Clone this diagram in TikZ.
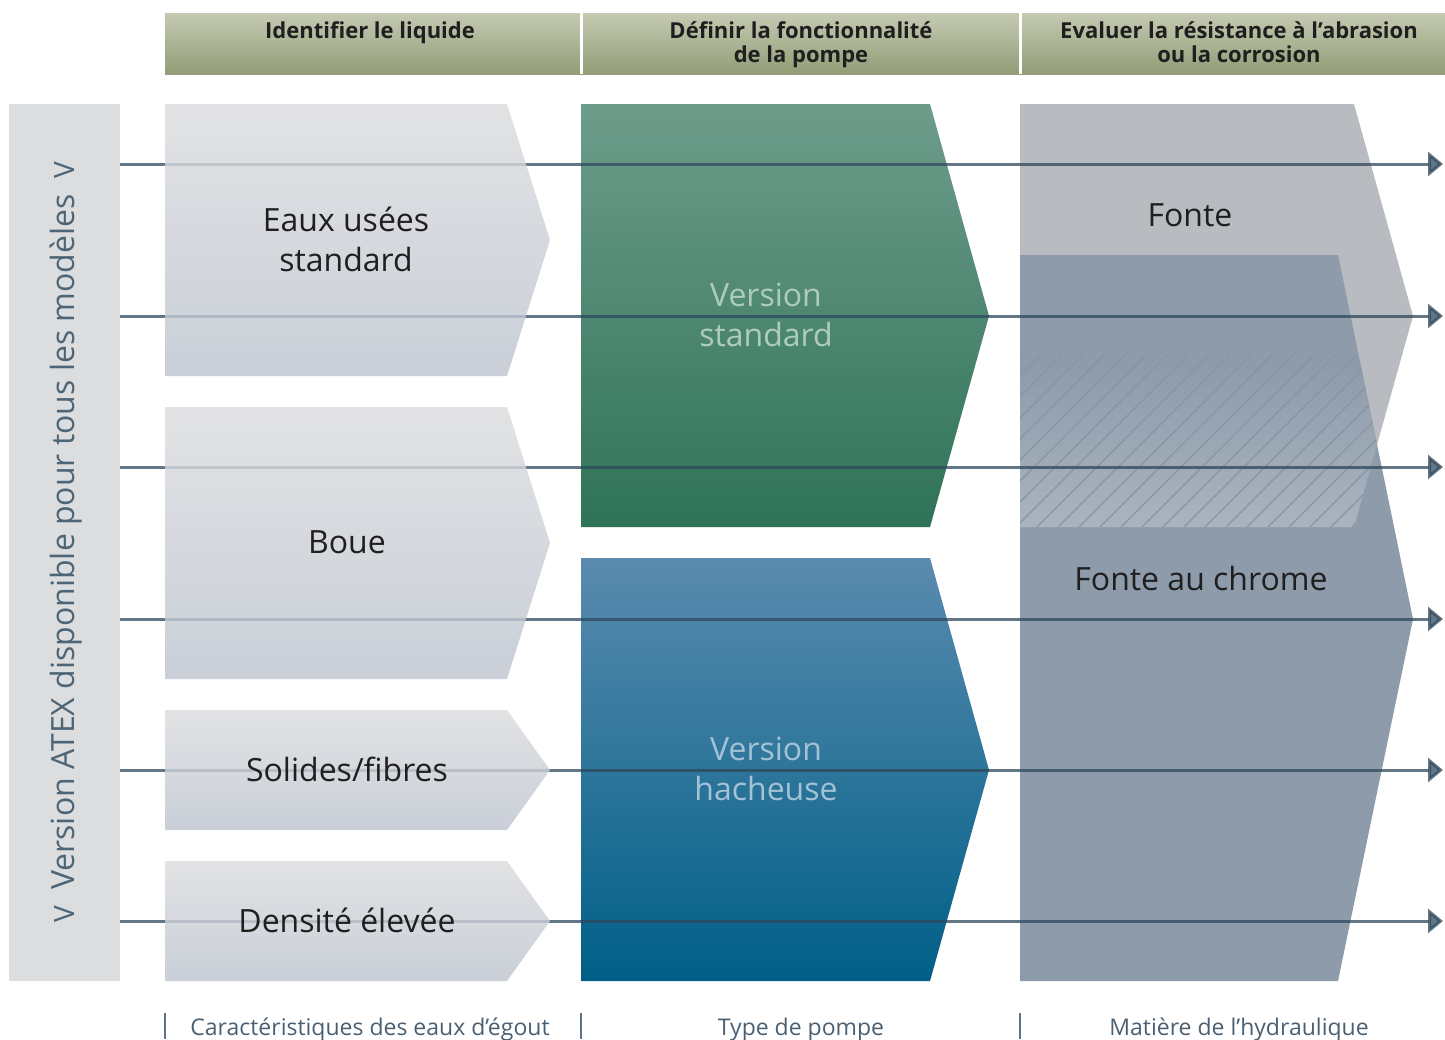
\documentclass[tikz,border=0pt]{standalone}
\usepackage{fontspec}
\setmainfont{Open Sans}
\usetikzlibrary{arrows.meta}
\definecolor{hdtop}{HTML}{C4CAB2}
\definecolor{hdbot}{HTML}{929D77}
\definecolor{barc}{HTML}{DCDDDF}
\definecolor{chevtop}{HTML}{DBDCDE}
\definecolor{chevbot}{HTML}{BEC4CF}
\definecolor{greentop}{HTML}{6E9C8B}
\definecolor{greenbot}{HTML}{2F7358}
\definecolor{bluetop}{HTML}{5A8BAE}
\definecolor{bluebot}{HTML}{005F87}
\definecolor{fontec}{HTML}{B8BBBF}
\definecolor{chromec}{HTML}{8E9BAB}
\definecolor{hatchbot}{HTML}{AAB4BE}
\definecolor{hatchline}{HTML}{8794A4}
\definecolor{linec}{HTML}{2E485C}
\definecolor{bottext}{HTML}{4A6072}
\definecolor{tickc}{HTML}{5E7385}
\definecolor{verttext}{HTML}{4E6576}
\definecolor{darktext}{HTML}{1F1F1F}
\definecolor{greenlabel}{HTML}{AECCBE}
\definecolor{bluelabel}{HTML}{A3C2D6}
\tikzset{
  flowline/.style={draw=linec, line width=1.5pt, draw opacity=0.75, fill opacity=0.75, -{Triangle[length=7.5pt,width=12pt]}},
  chev/.style={top color=chevtop, bottom color=chevbot, opacity=0.82},
  hdrtext/.style={font=\fontsize{11}{12}\selectfont\bfseries, text=darktext, align=center, inner sep=0pt, anchor=base},
  bigtext/.style={font=\fontsize{16}{20}\selectfont, text=darktext, align=center, inner sep=0pt},
  greentext/.style={bigtext, text=greenlabel},
  bluetext/.style={bigtext, text=bluelabel},
  bottomtext/.style={font=\fontsize{11.5}{13}\selectfont, text=bottext, inner sep=0pt, anchor=base},
  tickline/.style={draw=tickc, line width=0.6pt},
}
\begin{document}
\begin{tikzpicture}[x=0.5pt,y=-0.5pt]
\useasboundingbox (0,0) rectangle (1445,1039);
% left bar
\fill[barc] (9,104) rectangle (120,981);
\node[rotate=90, font=\fontsize{16}{20}\selectfont, text=verttext, inner sep=0pt] (atex) at (66,542)
  {{\fontsize{14}{14}\selectfont V}\hspace{8pt}Version ATEX disponible pour tous les modèles\hspace{8pt}{\fontsize{14}{14}\selectfont V}};
% header
\shade[top color=hdtop, bottom color=hdbot] (165,13) rectangle (1445,74);
\draw[white, line width=1.5pt] (581,13) -- (581,74);
\draw[white, line width=1.5pt] (1020,13) -- (1020,74);
\node[hdrtext] (h1) at (370,38) {Identifier le liquide};
\node[hdrtext] (h2) at (801,62) {Définir la fonctionnalité\\de la pompe};
\node[hdrtext] (h3) at (1239,62) {Evaluer la résistance à l’abrasion\\ou la corrosion};
% column 2
\shade[top color=greentop, bottom color=greenbot] (581,104) -- (930,104) -- (989,316) -- (930,527) -- (581,527) -- cycle;
\shade[top color=bluetop, bottom color=bluebot] (581,558) -- (930,558) -- (989,770) -- (930,981) -- (581,981) -- cycle;
% column 3
\fill[fontec] (1020,104) -- (1354,104) -- (1413,316) -- (1354,527) -- (1020,527) -- cycle;
\fill[chromec] (1020,255) -- (1338,255) -- (1413,619) -- (1338,981) -- (1020,981) -- cycle;
\begin{scope}
  \clip (1020,104) -- (1354,104) -- (1413,316) -- (1354,527) -- (1020,527) -- cycle;
  \clip (1020,255) -- (1338,255) -- (1413,619) -- (1338,981) -- (1020,981) -- cycle;
  \shade[top color=chromec, bottom color=hatchbot] (1020,365) rectangle (1420,527);
  \foreach \i in {0,...,27} {
    \draw[hatchline, line width=0.6pt] ({848+\i*21},527) -- ++(172,-172);
  }
\end{scope}
% flow lines
\foreach \k/\yy in {1/164,2/316,3/467,4/619,5/770,6/921} {
  \coordinate (L\k) at (120,\yy);
  \coordinate (R\k) at (1443,\yy);
}
\foreach \k in {1,...,6} { \draw[flowline] (L\k) -- (R\k); }
% column 1 chevrons
\shade[chev] (165,104) -- (507,104) -- (550,240) -- (507,376) -- (165,376) -- cycle;
\shade[chev] (165,407) -- (507,407) -- (550,543) -- (507,679) -- (165,679) -- cycle;
\shade[chev] (165,710) -- (507,710) -- (550,770) -- (507,830) -- (165,830) -- cycle;
\shade[chev] (165,861) -- (507,861) -- (550,921) -- (507,981) -- (165,981) -- cycle;
% labels
\node[bigtext] (eaux) at (346,239) {Eaux usées\\standard};
\node[bigtext] (boue) at (347,542) {Boue};
\node[bigtext] (solides) at (347,769) {Solides/fibres};
\node[bigtext] (densite) at (347,920) {Densité élevée};
\node[greentext] (vstd) at (766,315) {Version\\standard};
\node[bluetext] (vhach) at (766,769) {Version\\hacheuse};
\node[bigtext] (fonte) at (1190,215) {Fonte};
\node[bigtext] (chrome) at (1201,578) {Fonte au chrome};
% bottom
\coordinate (t1a) at (165,1013); \coordinate (t1b) at (165,1039);
\coordinate (t2a) at (581,1013); \coordinate (t2b) at (581,1039);
\coordinate (t3a) at (1020,1013); \coordinate (t3b) at (1020,1039);
\draw[tickline] (t1a) -- (t1b);
\draw[tickline] (t2a) -- (t2b);
\draw[tickline] (t3a) -- (t3b);
\node[bottomtext] (b1) at (370,1035) {Caractéristiques des eaux d'égout};
\node[bottomtext] (b2) at (801,1035) {Type de pompe};
\node[bottomtext] (b3) at (1239,1035) {Matière de l’hydraulique};
\end{tikzpicture}
\end{document}
